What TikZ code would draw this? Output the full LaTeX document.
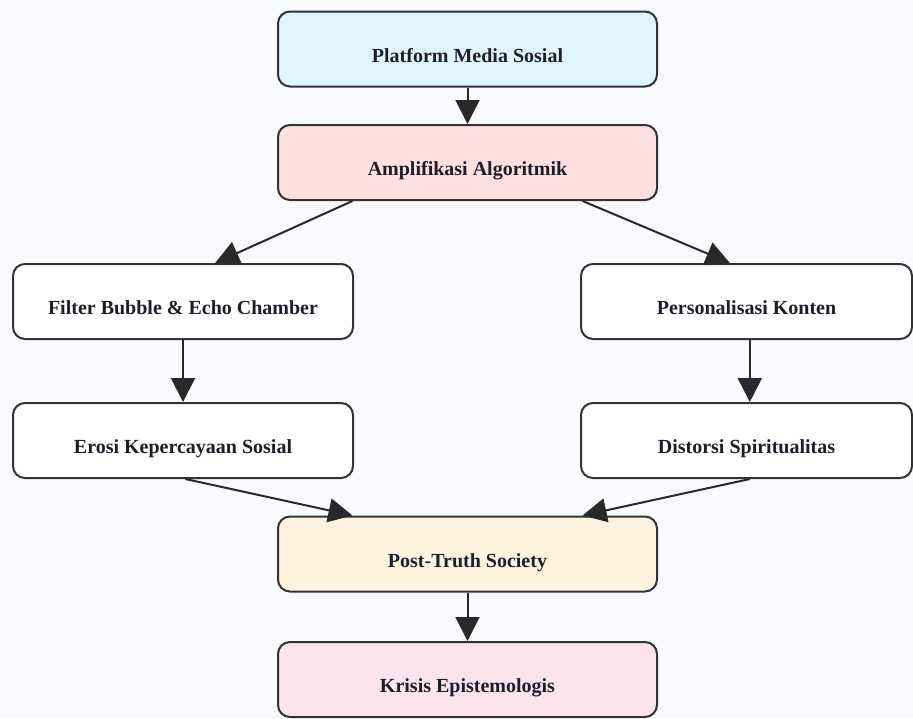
\documentclass[tikz,border=0pt]{standalone}
\usepackage{fontspec}
\setmainfont{Liberation Serif}
\usetikzlibrary{arrows.meta,calc}
\definecolor{bgc}{HTML}{F8FAFD}
\definecolor{edge}{HTML}{333333}
\definecolor{txt}{HTML}{1E1E2A}
\definecolor{cblue}{HTML}{E1F5FE}
\definecolor{cred}{HTML}{FFE0E0}
\definecolor{corange}{HTML}{FFF3E0}
\definecolor{cpink}{HTML}{FCE4EC}
\tikzset{
  box/.style={draw=edge, line width=2pt, rounded corners=12pt, minimum height=75pt,
    inner sep=0pt, text=txt, font=\fontsize{20}{24}\selectfont\bfseries, fill=white,
    text height=26pt, text depth=0pt},
  conn/.style={draw=edge!80!black, line width=2pt, -{Triangle[length=24pt,width=24pt]}},
}
\begin{document}
\begin{tikzpicture}[x=1pt,y=-1pt]
\fill[bgc] (0,0) rectangle (913,718);
\useasboundingbox (0,0) rectangle (913,718);
\node[box, fill=cblue, minimum width=379pt] (A) at (467.5,49) {Platform Media Sosial};
\node[box, fill=cred, minimum width=379pt] (B) at (467.5,162.5) {Amplifikasi Algoritmik};
\node[box, minimum width=340pt] (C) at (183,301.5) {Filter Bubble \& Echo Chamber};
\node[box, minimum width=331pt] (D) at (746.5,301.5) {Personalisasi Konten};
\node[box, minimum width=340pt] (E) at (183,440.5) {Erosi Kepercayaan Sosial};
\node[box, minimum width=331pt] (F) at (746.5,440.5) {Distorsi Spiritualitas};
\node[box, fill=corange, minimum width=379pt] (G) at (467.5,554) {Post-Truth Society};
\node[box, fill=cpink, minimum width=379pt] (H) at (467.5,679.5) {Krisis Epistemologis};
\draw[conn] (A.south) -- (B.north);
\draw[conn] ($(B.south west)!0.198!(B.south east)$) -- ($(C.north west)!0.594!(C.north east)$);
\draw[conn] ($(B.south west)!0.802!(B.south east)$) -- ($(D.north west)!0.45!(D.north east)$);
\draw[conn] (C.south) -- (E.north);
\draw[conn] ($(D.south west)!0.51!(D.south east)$) -- ($(F.north west)!0.51!(F.north east)$);
\draw[conn] ($(E.south west)!0.507!(E.south east)$) -- ($(G.north west)!0.198!(G.north east)$);
\draw[conn] ($(F.south west)!0.51!(F.south east)$) -- ($(G.north west)!0.802!(G.north east)$);
\draw[conn] (G.south) -- (H.north);
\end{tikzpicture}
\end{document}
